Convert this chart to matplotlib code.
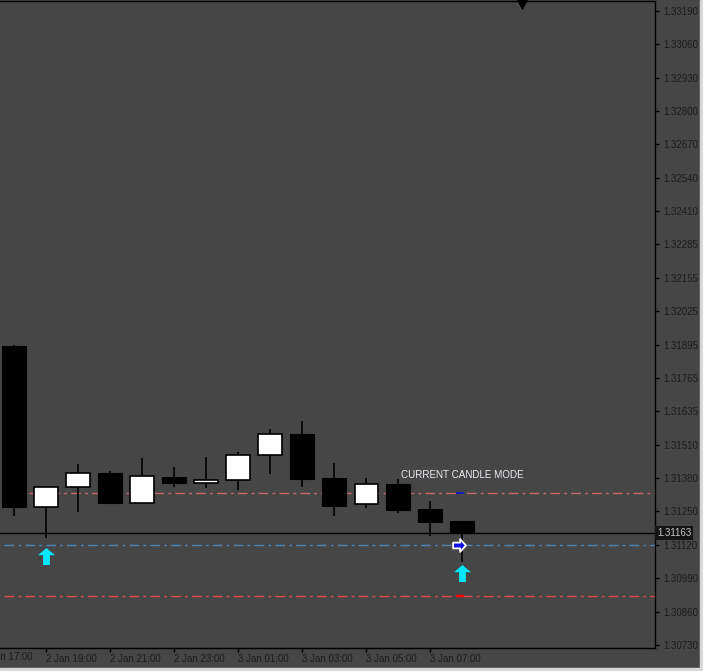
import numpy as np
import matplotlib.pyplot as plt
from matplotlib.path import Path
from matplotlib.patches import Rectangle
import matplotlib.transforms as mtransforms

# hourly candles, x = hours since 2 Jan 00:00
hours = [18, 19, 20, 21, 22, 23, 24, 25, 26, 27, 28, 29, 30, 31, 32]
opens = [1.31890, 1.31266, 1.31342, 1.31396, 1.31282, 1.31382, 1.31359, 1.31369,
         1.31466, 1.31547, 1.31377, 1.31276, 1.31354, 1.31257, 1.31211]
highs = [1.31895, 1.31343, 1.31432, 1.31405, 1.31455, 1.31420, 1.31459, 1.31477,
         1.31568, 1.31599, 1.31436, 1.31377, 1.31374, 1.31289, 1.31212]
lows = [1.31232, 1.31146, 1.31247, 1.31278, 1.31280, 1.31344, 1.31340, 1.31330,
        1.31394, 1.31344, 1.31232, 1.31262, 1.31243, 1.31154, 1.31051]
closes = [1.31266, 1.31342, 1.31396, 1.31282, 1.31385, 1.31359, 1.31369, 1.31466,
          1.31547, 1.31375, 1.31270, 1.31353, 1.31255, 1.31208, 1.31163]

current_price = 1.31163
upper_level = 1.31318
mid_level = 1.31119
lower_level = 1.30920

signal_hours = [19, 32]
signal_prices = [1.31075, 1.31008]

ytick_labels = ['1.33190', '1.33060', '1.32930', '1.32800', '1.32670', '1.32540',
                '1.32410', '1.32285', '1.32155', '1.32025', '1.31895', '1.31765',
                '1.31635', '1.31510', '1.31380', '1.31250', '1.31120', '1.30990',
                '1.30860', '1.30730']
xtick_hours = [17, 19, 21, 23, 25, 27, 29, 31]
xtick_labels = ['2 Jan 17:00', '2 Jan 19:00', '2 Jan 21:00', '2 Jan 23:00',
                '3 Jan 01:00', '3 Jan 03:00', '3 Jan 05:00', '3 Jan 07:00']

bg = '#464646'
txt = '#1c1c1c'
font = 'Liberation Sans'

fig = plt.figure(figsize=(7.03, 6.71), dpi=100, facecolor=bg)
ax = fig.add_axes([0, 23 / 671, 655 / 703, 647 / 671])
ax.set_facecolor(bg)
ax.set_xlim(17.5625, 38.03)
ax.set_ylim(1.30718, 1.33228)

# levels
dd = (7, 3, 2, 3)
ax.hlines(upper_level, 18.47, 40, color='#c86868', lw=1, linestyles=[(0, dd)])
ax.hlines(mid_level, 17.7, 40, color='#4a86b8', lw=1, linestyles=[(0, dd)])
ax.hlines(lower_level, 17.7, 40, color='#e04a4a', lw=1, linestyles=[(0, dd)])
ax.axhline(current_price, color='black', lw=1)
ax.hlines(upper_level, 31.8, 32.05, color='#1010d0', lw=1.3)
ax.hlines(lower_level, 31.8, 32.05, color='#ff0000', lw=1.6)

# candles
h = np.array(hours)
o = np.array(opens)
c = np.array(closes)
ax.vlines(h, lows, highs, color='black', lw=1.2, zorder=3)
bull = c >= o
ax.bar(h[bull], np.abs(c - o)[bull], 0.72, bottom=np.minimum(o, c)[bull],
       color='white', edgecolor='black', lw=1.2, zorder=4)
ax.bar(h[~bull], np.abs(c - o)[~bull], 0.75, bottom=np.minimum(o, c)[~bull],
       color='black', edgecolor='black', lw=0.8, zorder=4)

# signal arrows
up = Path([(0, 1), (-1, 0.15), (-0.4, 0.15), (-0.4, -1), (0.4, -1), (0.4, 0.15), (1, 0.15), (0, 1)],
          [Path.MOVETO] + [Path.LINETO] * 6 + [Path.CLOSEPOLY])
ax.scatter(signal_hours, signal_prices, marker=up, s=150, color='#00e8ff', lw=0, zorder=5)
right = Path([(1, 0), (0.1, 1), (0.1, 0.45), (-1, 0.45), (-1, -0.45), (0.1, -0.45), (0.1, -1), (1, 0)],
             [Path.MOVETO] + [Path.LINETO] * 6 + [Path.CLOSEPOLY])
ax.scatter([31.9], [mid_level], marker=right, s=85, color='#1010e8', edgecolor='white', lw=1.3, zorder=6)

ax.text(30.1, 1.31389, 'CURRENT CANDLE MODE', color='#ececf4', fontsize=7.1,
        family=font, va='center', ha='left')

# chart shift marker
ax.scatter([0.797], [0.996], marker='v', s=45, color='black', transform=ax.transAxes,
           clip_on=False, zorder=6)

# axes
ax.spines['left'].set_visible(False)
for s in ['top', 'right', 'bottom']:
    ax.spines[s].set_color('black')
    ax.spines[s].set_linewidth(1)

ax.yaxis.tick_right()
ax.set_yticks(np.linspace(1.33190, 1.30730, len(ytick_labels)))
ax.set_yticklabels(ytick_labels)
ax.tick_params(axis='y', length=3, width=1, color='black', pad=3, labelsize=7, labelcolor=txt)
ax.set_xticks(xtick_hours[1:])
ax.set_xticklabels(xtick_labels[1:], ha='left')
ax.tick_params(axis='x', length=3, width=1, color='black', pad=1, labelsize=7, labelcolor=txt)
for lab in ax.get_xticklabels() + ax.get_yticklabels():
    lab.set_family(font)
ax.text(xtick_hours[0], -0.0135, xtick_labels[0], transform=ax.get_xaxis_transform(),
        ha='left', va='center', fontsize=7, family=font, color=txt, clip_on=False)

# current price label
tr = mtransforms.blended_transform_factory(ax.transAxes, ax.transData)
ax.text(1.003, current_price, '%.5f' % current_price, transform=tr, ha='left', va='center',
        fontsize=7, family=font, color='#c8c8c8', clip_on=False,
        bbox=dict(boxstyle='square,pad=0.2', fc='#141414', ec='none'))

# window frame edges
fig.patches.append(Rectangle((700 / 703, 0), 3 / 703, 1, transform=fig.transFigure,
                             color='#d8d8d8', zorder=10))
fig.patches.append(Rectangle((0, 0), 1, 3 / 671, transform=fig.transFigure,
                             color='#d8d8d8', zorder=10))

fig.savefig('out.png', dpi=100, facecolor=bg)
